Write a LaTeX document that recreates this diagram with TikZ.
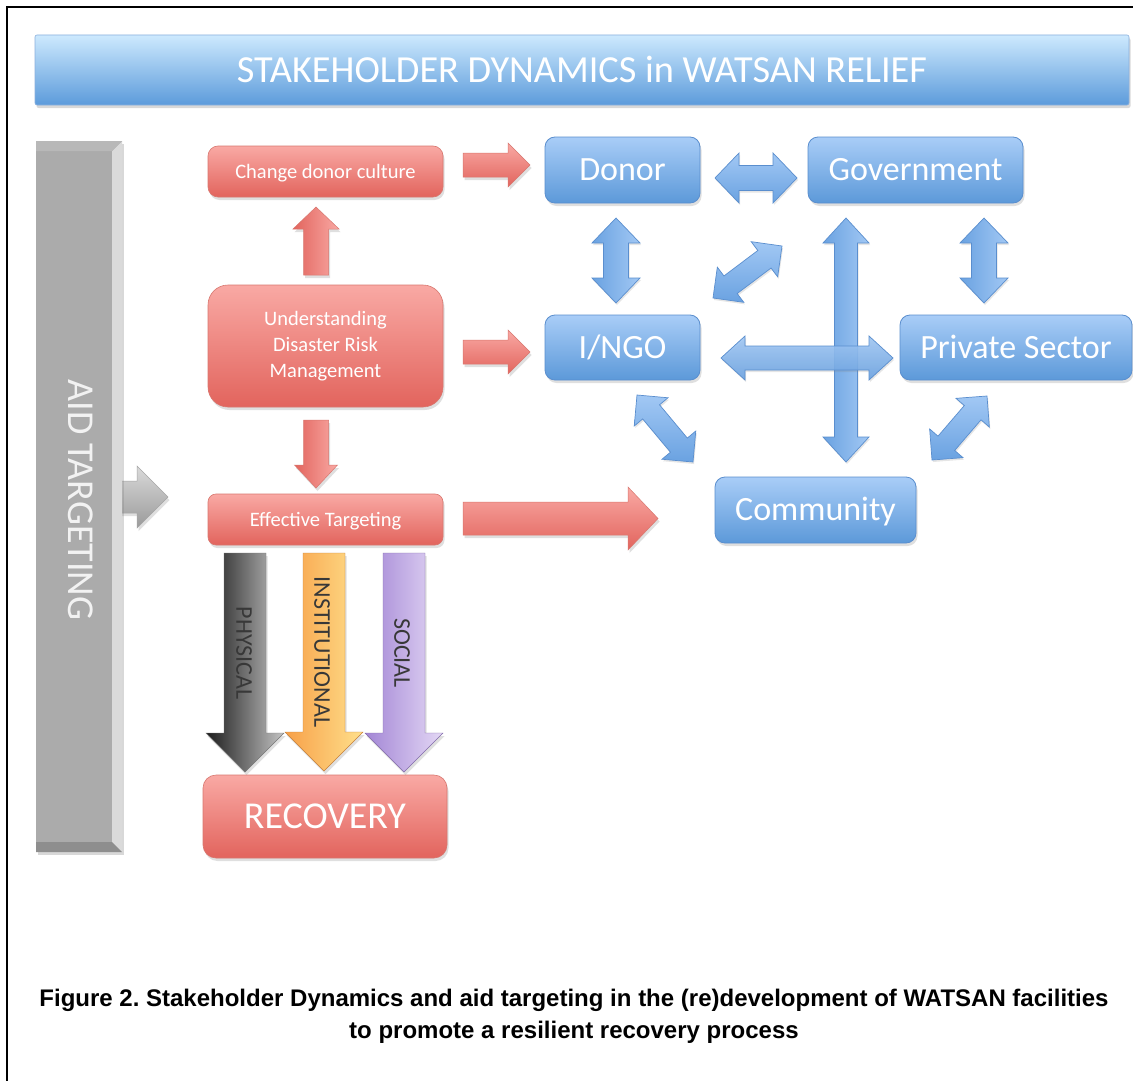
\documentclass[tikz,border=0pt]{standalone}
\usepackage{fontspec}
\setmainfont{Carlito}
\newfontfamily\capfont{Liberation Sans}
\usetikzlibrary{calc,shadows}
\frenchspacing
\definecolor{redtop}{HTML}{F9A9A4}
\definecolor{redbot}{HTML}{E2645D}
\definecolor{redline}{HTML}{D8776F}
\definecolor{bluetop}{HTML}{A9CDF7}
\definecolor{bluebot}{HTML}{5C99D9}
\definecolor{blueline}{HTML}{5A8ECE}
\definecolor{arrtop}{HTML}{A2C8F4}
\definecolor{arrbot}{HTML}{6AA2E1}
\definecolor{bantop}{HTML}{CDE9FE}
\definecolor{banmid}{HTML}{92C1F2}
\definecolor{banbot}{HTML}{5C9BDB}
\definecolor{greybar}{HTML}{ABABAB}
\definecolor{greylight}{HTML}{DADADA}
\definecolor{greydark}{HTML}{8E8E8E}
\definecolor{orangeL}{HTML}{F7A048}
\definecolor{orangeR}{HTML}{FFE08C}
\definecolor{purpleL}{HTML}{A386D5}
\definecolor{purpleR}{HTML}{E4D8F5}
\definecolor{physL}{HTML}{1C1C1C}
\definecolor{physR}{HTML}{C4C4C4}

% single block arrow: tail, tip, shaft half width, head half width, head length, style
\newcommand{\blkone}[6]{%
  \path[#6]
    ($(#1)!#3!90:(#2)$)
    -- ($(#2)!#5!(#1)!#3!-90:(#1)$)
    -- ($(#2)!#5!(#1)!#4!-90:(#1)$)
    -- (#2)
    -- ($(#2)!#5!(#1)!#4!90:(#1)$)
    -- ($(#2)!#5!(#1)!#3!90:(#1)$)
    -- ($(#1)!#3!-90:(#2)$)
    -- cycle;}
% double block arrow
\newcommand{\blkdbl}[6]{%
  \path[#6]
    (#1)
    -- ($(#1)!#5!(#2)!#4!90:(#2)$)
    -- ($(#1)!#5!(#2)!#3!90:(#2)$)
    -- ($(#2)!#5!(#1)!#3!-90:(#1)$)
    -- ($(#2)!#5!(#1)!#4!-90:(#1)$)
    -- (#2)
    -- ($(#2)!#5!(#1)!#4!90:(#1)$)
    -- ($(#2)!#5!(#1)!#3!90:(#1)$)
    -- ($(#1)!#5!(#2)!#3!-90:(#2)$)
    -- ($(#1)!#5!(#2)!#4!-90:(#2)$)
    -- cycle;}

\tikzset{
  softshadow/.style={drop shadow={shadow xshift=1.5pt, shadow yshift=-3pt, opacity=0.25}},
  redbox/.style={draw=redline, line width=0.6pt, top color=redtop, bottom color=redbot,
    text=white, rounded corners=10pt, inner sep=0pt, softshadow},
  smalltext/.style={font=\fontsize{20.5}{26}\selectfont, text height=13.2pt, text depth=0pt},
  bluebox/.style={draw=blueline, line width=0.8pt, top color=bluetop, bottom color=bluebot,
    text=white, rounded corners=10pt, inner sep=0pt, softshadow,
    font=\fontsize{34}{36}\selectfont, text height=21.9pt, text depth=0pt},
  rarrow/.style={draw=redline, line width=0.5pt, top color=redtop, bottom color=redbot, softshadow},
  rarrowv/.style={draw=redline, line width=0.5pt, left color=redbot, right color=redtop, softshadow},
  barrowh/.style={draw=blueline, line width=0.7pt, top color=arrtop, bottom color=arrbot,
    drop shadow={shadow xshift=1pt, shadow yshift=-2pt, opacity=0.2}},
  barrowv/.style={draw=blueline, line width=0.7pt, left color=arrbot, right color=arrtop,
    drop shadow={shadow xshift=1pt, shadow yshift=-2pt, opacity=0.2}},
  vlabel/.style={rotate=-90, text=black!78, font=\fontsize{24}{26}\selectfont,
    text height=15.5pt, text depth=0pt, inner sep=0pt},
  captext/.style={font=\capfont\bfseries\fontsize{24}{28}\selectfont, text=black, inner sep=0pt}
}

\begin{document}
\begin{tikzpicture}[x=1pt,y=-1pt]
\useasboundingbox (0,0) rectangle (1133,1081);
\fill[white] (0,0) rectangle (1133,1081);
% frame
\draw[line width=2.2pt] (7,1081) -- (7,7) -- (1133,7);

% banner
\node[draw=blueline!70, line width=0.6pt, top color=bantop, middle color=banmid, bottom color=banbot,
  rounded corners=2pt, minimum width=1094pt, minimum height=70pt, inner sep=0pt,
  drop shadow={shadow xshift=1.5pt, shadow yshift=-3pt, opacity=0.3},
  text=white, font=\fontsize{38.3}{40}\selectfont, text height=24.5pt, text depth=0pt]
  (banner) at (582,70) {STAKEHOLDER DYNAMICS in WATSAN RELIEF};

% grey arrow behind bar
\coordinate (ga1) at (113,497);
\coordinate (ga2) at (168,497);
\blkone{ga1}{ga2}{16pt}{31pt}{31pt}{draw=greydark!80, line width=0.5pt, top color=greylight, bottom color=greybar!90!black, softshadow}

% grey bar
\node[fill=greybar, minimum width=86pt, minimum height=711pt, inner sep=0pt,
  drop shadow={shadow xshift=2pt, shadow yshift=-3pt, opacity=0.3}] (aidbar) at (79,496.5) {};
\fill[greylight] (112,151) -- (122,141) -- (122,852) -- (112,842) -- cycle;
\fill[greydark] (36,842) -- (112,842) -- (122,852) -- (36,852) -- cycle;
\fill[greybar!85!white] (36,141) -- (122,141) -- (112,151) -- (36,151) -- cycle;
\node[rotate=-90, text=white!95!black, font=\fontsize{38}{40}\selectfont, text height=24.5pt,
  text depth=0pt, inner sep=0pt] (aidtext) at (80.5,500) {AID TARGETING};

% red boxes
\node[redbox, smalltext, minimum width=235pt, minimum height=51pt] (change) at (325.5,171.5) {Change donor culture};
\node[redbox, rounded corners=20pt, minimum width=235pt, minimum height=122pt, align=center,
  font=\fontsize{20.5}{26}\selectfont] (underst) at (325.5,346) {Understanding\\Disaster Risk\\Management};
\node[redbox, smalltext, rounded corners=8pt, minimum width=235pt, minimum height=51pt] (effect) at (325.5,519.5) {Effective Targeting};
\node[redbox, rounded corners=13pt, minimum width=244pt, minimum height=83pt,
  font=\fontsize{38}{40}\selectfont, text height=24.5pt, text depth=0pt] (recov) at (325,816.5) {RECOVERY};

% red arrows
\coordinate (ua1) at (316,275); \coordinate (ua2) at (316,207);
\blkone{ua1}{ua2}{12.5pt}{23pt}{22pt}{rarrowv}
\coordinate (da1) at (316,420); \coordinate (da2) at (316,488);
\blkone{da1}{da2}{12.5pt}{21.5pt}{23pt}{rarrowv}
\coordinate (ra1) at (463,165); \coordinate (ra2) at (530,165);
\blkone{ra1}{ra2}{12pt}{22pt}{22pt}{rarrow}
\coordinate (rb1) at (463,352); \coordinate (rb2) at (530,352);
\blkone{rb1}{rb2}{12pt}{22pt}{22pt}{rarrow}
\coordinate (rc1) at (463,518.5); \coordinate (rc2) at (658,518.5);
\blkone{rc1}{rc2}{16.5pt}{31.5pt}{30pt}{rarrow}

% three coloured arrows
\coordinate (pa1) at (245,553); \coordinate (pa2) at (245,772);
\blkone{pa1}{pa2}{21pt}{39pt}{39pt}{draw=physL!60, line width=0.4pt, left color=physL, right color=physR, softshadow}
\coordinate (ia1) at (324,553); \coordinate (ia2) at (324,771);
\blkone{ia1}{ia2}{21pt}{39pt}{39pt}{draw=orangeL!80!black, line width=0.4pt, left color=orangeL, right color=orangeR, softshadow}
\coordinate (sa1) at (404,553); \coordinate (sa2) at (404,772);
\blkone{sa1}{sa2}{21pt}{39pt}{39pt}{draw=purpleL!80!black, line width=0.4pt, left color=purpleL, right color=purpleR, softshadow}
\node[vlabel] (physl) at (244,653) {PHYSICAL};
\node[vlabel] (instl) at (322,652) {INSTITUTIONAL};
\node[vlabel] (socl) at (402,653) {SOCIAL};

% blue boxes
\node[bluebox, minimum width=155pt, minimum height=66pt] (donor) at (622.5,170) {Donor};
\node[bluebox, minimum width=215pt, minimum height=66pt] (gov) at (915.5,170) {Government};
\node[bluebox, minimum width=155pt, minimum height=65pt] (ingo) at (622.5,347.5) {I/NGO};
\node[bluebox, minimum width=232pt, minimum height=65pt] (priv) at (1016,347.5) {Private Sector};
\node[bluebox, minimum width=201pt, minimum height=66pt] (comm) at (815.5,510) {Community};

% blue double arrows
\coordinate (dg1) at (715,178); \coordinate (dg2) at (797,178);
\blkdbl{dg1}{dg2}{12.5pt}{25pt}{24pt}{barrowh}
\coordinate (di1) at (616,218); \coordinate (di2) at (616,303);
\blkdbl{di1}{di2}{12.5pt}{24pt}{25pt}{barrowv}
\coordinate (gp1) at (984,218); \coordinate (gp2) at (984,303);
\blkdbl{gp1}{gp2}{12.5pt}{24pt}{25pt}{barrowv}
\coordinate (ig1) at (713,298); \coordinate (ig2) at (782,246);
\blkdbl{ig1}{ig2}{11pt}{22pt}{22pt}{barrowh}
\coordinate (gc1) at (846,218); \coordinate (gc2) at (846,462);
\blkdbl{gc1}{gc2}{11.5pt}{23pt}{25pt}{barrowv}
\coordinate (ip1) at (721,358); \coordinate (ip2) at (893,358);
\blkdbl{ip1}{ip2}{12pt}{22pt}{24pt}{barrowh, fill opacity=0.9}
\coordinate (ic1) at (637,395); \coordinate (ic2) at (693,462);
\blkdbl{ic1}{ic2}{11pt}{22pt}{22pt}{barrowh}
\coordinate (pc1) at (987,396); \coordinate (pc2) at (932,460);
\blkdbl{pc1}{pc2}{11pt}{22pt}{22pt}{barrowh}

% caption
\node[captext] (cap1) at (574,1000) {Figure 2. Stakeholder Dynamics and aid targeting in the (re)development of WATSAN facilities};
\node[captext] (cap2) at (574,1032) {to promote a resilient recovery process};
\end{tikzpicture}
\end{document}
